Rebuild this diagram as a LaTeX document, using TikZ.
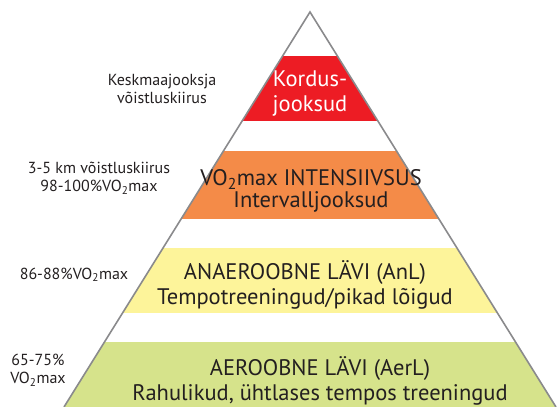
\documentclass[tikz,border=0pt]{standalone}
\usepackage{fontspec}
\setmainfont{PT Sans}

\definecolor{bandred}{RGB}{237,28,36}
\definecolor{bandorange}{RGB}{244,139,72}
\definecolor{bandyellow}{RGB}{253,244,154}
\definecolor{bandgreen}{RGB}{214,227,139}
\definecolor{edgegray}{RGB}{138,138,140}
\definecolor{textdark}{RGB}{35,31,32}

\begin{document}
\begin{tikzpicture}[x=1pt,y=-1pt]
    \def\picwidth{560}
    \def\picheight{407}

    \tikzset{
        bandtext/.style={align=center, text=textdark, inner sep=0pt, font=\fontsize{22.5}{25}\selectfont},
        sidetext/.style={align=center, text=textdark, inner sep=0pt, font=\fontsize{16}{18}\selectfont}
    }

    \useasboundingbox (0,0) rectangle (\picwidth,\picheight);

    \coordinate (apex) at (310,12);
    \coordinate (baseleft) at (64,\picheight);
    \coordinate (baseright) at (556,\picheight);

    % Draw the bands inside the pyramid
    \begin{scope}
        \clip (apex) -- (baseleft) -- (baseright) -- cycle;
        \fill[bandred] (0,56) rectangle (\picwidth,121);
        \fill[bandorange] (0,151) rectangle (\picwidth,219);
        \fill[bandyellow] (0,248) rectangle (\picwidth,313);
        \fill[bandgreen] (0,342) rectangle (\picwidth,\picheight);
    \end{scope}

    % Draw the pyramid outline
    \draw[draw=edgegray, line width=1.6pt] (baseleft) -- (apex) -- (baseright);

    % Text in the bands
    \node[bandtext, text=white] (kordus) at (310,94) {Kordus-\\jooksud};
    \node[bandtext] (intensiivsus) at (311,191) {VO\textsubscript{2}max INTENSIIVSUS\\[-3pt]Intervalljooksud};
    \node[bandtext] (anl) at (305,285) {ANAEROOBNE LÄVI (AnL)\\Tempotreeningud/pikad lõigud};
    \node[bandtext] (aerl) at (320,380.5) {AEROOBNE LÄVI (AerL)\\Rahulikud, ühtlases tempos treeningud};

    % Labels on the left
    \node[sidetext] (keskmaa) at (162,89) {Keskmaajooksja\\võistluskiirus};
    \node[sidetext] (kiirus) at (99,178.4) {3-5 km võistluskiirus\\98-100\%VO\textsubscript{2}max};
    \node[sidetext, anchor=base] (anlpct) at (74,279) {86-88\%VO\textsubscript{2}max};
    \node[sidetext] (aerlpct) at (38,370) {65-75\%\\VO\textsubscript{2}max};
\end{tikzpicture}
\end{document}
